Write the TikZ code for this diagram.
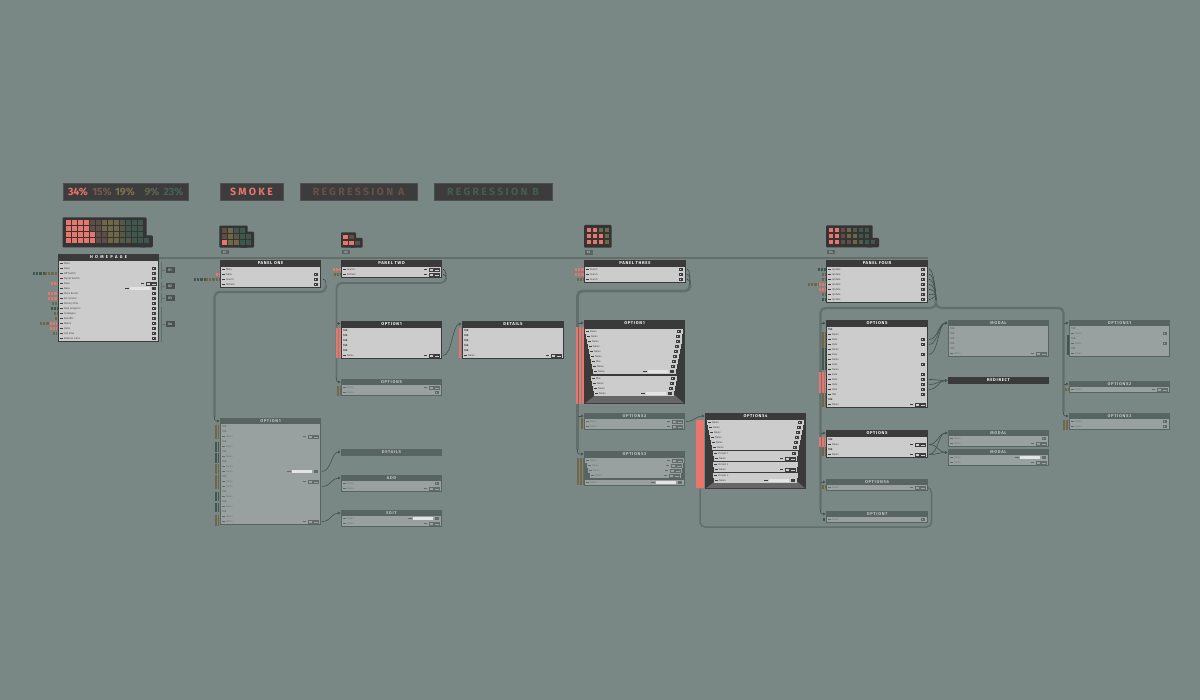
\documentclass[tikz,border=0pt]{standalone}
\usepackage{fontspec}
\setmainfont{Fira Sans}
\newfontfamily\tfont[LetterSpace=22]{Fira Sans}
\newfontfamily\pfont{Fira Sans}
\newfontfamily\hfont[LetterSpace=16]{Fira Sans}
\newfontfamily\hwfont[LetterSpace=55]{Fira Sans}
\newfontfamily\rfont{Fira Sans}
\usetikzlibrary{calc,arrows.meta}

\definecolor{bg}{RGB}{121,135,133}
\definecolor{dbox}{RGB}{58,58,58}
\definecolor{drow}{RGB}{204,204,204}
\definecolor{dtxt}{RGB}{72,72,72}
\definecolor{dico}{RGB}{62,62,62}
\definecolor{dhead}{RGB}{245,245,245}
\definecolor{dfloor}{RGB}{102,102,102}
\definecolor{lbox}{RGB}{88,100,98}
\definecolor{lrow}{RGB}{152,161,159}
\definecolor{ltxt}{RGB}{108,118,116}
\definecolor{lico}{RGB}{98,108,106}
\definecolor{lhead}{RGB}{190,197,195}
\definecolor{lfloor}{RGB}{88,100,98}
\definecolor{trk}{RGB}{98,110,108}
\definecolor{lnk}{RGB}{70,80,78}
\definecolor{sal}{RGB}{233,117,109}
\definecolor{brn}{RGB}{96,77,70}
\definecolor{olv}{RGB}{110,103,72}
\definecolor{dol}{RGB}{86,89,68}
\definecolor{grn}{RGB}{64,87,77}
\definecolor{tbx}{RGB}{60,60,60}
\definecolor{tbxl}{RGB}{78,78,78}
\definecolor{wbx}{RGB}{52,52,52}
\definecolor{labbg}{RGB}{90,101,99}
\definecolor{hlbg}{RGB}{74,82,80}
\definecolor{labtx}{RGB}{170,178,176}
\definecolor{pcb}{RGB}{118,90,80}
\definecolor{pco}{RGB}{125,113,78}
\definecolor{pcd}{RGB}{98,100,76}
\definecolor{pcg}{RGB}{72,98,88}
\definecolor{rga}{RGB}{104,82,72}
\definecolor{rgb}{RGB}{72,92,80}
\definecolor{fld}{RGB}{228,228,228}

\newcounter{tl}
\def\hhd{7}
\def\hhl{6}

% row left parts
\newcommand\rowLdef[5]{%
  \fill[#5ico] (#1+1,#3+1.6) rectangle (#1+3.8,#3+3.4);%
  \stepcounter{tl}%
  \node[rowtext, text=#5txt] (tl\arabic{tl}) at (#1+4.8,#3+2.55) {#4};}
\newcommand\rowLt[5]{%
  \stepcounter{tl}%
  \node[rowtext, text=#5txt, font=\rfont\bfseries\fontsize{2.6}{2.6}\selectfont] (tl\arabic{tl}) at (#1+0.8,#3+2.55) {#4};}
% row right parts
\newcommand\rowRi[5]{%
  \fill[#5ico] (#2-5.6,#3+1.3) rectangle (#2-1.6,#3+3.7);%
  \fill[#5row] (#2-4.6,#3+2.1) rectangle (#2-3.7,#3+2.9);}
\newcommand\rowRc[5]{%
  \draw[#5ico, line width=0.3pt] (#2-6.5,#3+1.3) rectangle (#2-1.4,#3+3.8);%
  \fill[#5ico] (#2-5.7,#3+2.2) rectangle (#2-2.2,#3+2.9);%
  \draw[#5ico, line width=0.3pt] (#2-12,#3+1.3) rectangle (#2-8,#3+3.8);%
  \fill[#5ico] (#2-17,#3+1.8) rectangle (#2-14,#3+3.3);}
\newcommand\rowRw[5]{%
  \fill[fld] (#2-28,#3+1.2) rectangle (#2-8,#3+3.8);%
  \fill[#5ico] (#2-33,#3+1.8) rectangle (#2-29,#3+3.2);%
  \fill[#5ico] (#2-6,#3+1.3) rectangle (#2-1.6,#3+3.7);}

\newcommand\mkrow[6]{%
  \fill[#6row] (#1,#3+0.45) rectangle (#2,#3+4.55);%
  \ifcsname rowL#5\endcsname\csname rowL#5\endcsname{#1}{#2}{#3}{#4}{#6}\else\rowLdef{#1}{#2}{#3}{#4}{#6}\fi
  \ifcsname rowR#5\endcsname\csname rowR#5\endcsname{#1}{#2}{#3}{#4}{#6}\fi}

% panel: name, x, y, width, nrows, title, variant, rows
\newcommand\mkpanel[8]{%
  \edef\hh{\ifnum#5=0 7\else\csname hh#7\endcsname\fi}%
  \pgfmathsetmacro\ph{#5==0 ? 7 : \hh+5*#5+1}%
  \node[anchor=north west, inner sep=0, outer sep=0, minimum width=#4pt, minimum height=\ph pt, fill=#7box] (#1) at (#2,#3) {};%
  \node[hdtext, text=#7head] (#1-h) at (#2+#4/2,#3+\hh/2) {#6};%
  \ifnum#5>0
    \foreach \lab/\typ [count=\i from 0] in {#8} {%
      \pgfmathsetmacro\ry{#3+\hh+5*\i}%
      \mkrow{#2+1}{#2+#4-1}{\ry}{\lab}{\typ}{#7}}%
  \fi}

% perspective panel: name, x, y, width, height, title, variant, rows (ry/il/ir/label/type)
\newcommand\mkpersp[8]{%
  \node[anchor=north west, inner sep=0, outer sep=0, minimum width=#4pt, minimum height=#5pt, fill=#7box] (#1) at (#2,#3) {};%
  \fill[#7floor] (#2+1,#3+#5-0.8) -- (#2+#4-1,#3+#5-0.8) -- (#2+#4-10,#3+#5-8.5) -- (#2+11,#3+#5-8.5) -- cycle;%
  \node[hdtext, text=#7head] (#1-h) at (#2+#4/2,#3+3.5) {#6};%
  \foreach \ry/\il/\ir/\lab/\typ in {#8} {\mkrow{#2+\il}{#2+#4-\ir}{#3+\ry}{\lab}{\typ}{#7}}}

% waffle cells: x0, y0, nrows, pitch, colour list (bottom to top, column by column)
\newcommand\waffle[5]{%
  \foreach \wc [count=\k from 0] in {#5} {%
    \pgfmathtruncatemacro\wcol{\k/#3}%
    \pgfmathtruncatemacro\wrow{#3-1-mod(\k,#3)}%
    \fill[\wc] (#1+#4*\wcol,#2+#4*\wrow) rectangle ++(#4-1.3,#4-1.3);}}

% striped tick bar: x1, x2, ycentre, height, colour
\newcommand\stripes[5]{\draw[#5, line width=#4pt, dash pattern=on 0.9pt off 0.5pt] (#1,#3) -- (#2,#3);}

\begin{document}
\begin{tikzpicture}[x=1pt,y=-1pt,
  trunk/.style={draw=trk, line width=2.2pt, rounded corners=5pt},
  link/.style={draw=lnk, line width=0.6pt},
  endarr/.style={-{Triangle[length=2.4pt,width=2.6pt]}},
  hdtext/.style={font=\hfont\bfseries\fontsize{4.2}{4.2}\selectfont, inner sep=0},
  rowtext/.style={font=\rfont\fontsize{2.6}{2.6}\selectfont, inner sep=0, anchor=west},
  tbox/.style={fill=tbx, draw=tbxl, line width=0.6pt, inner sep=0, minimum height=17pt, font=\tfont\bfseries\fontsize{10.5}{10.5}\selectfont},
  pct/.style={inner sep=0, font=\pfont\bfseries\fontsize{10.5}{10.5}\selectfont},
  wlab/.style={fill=labbg, text=labtx, inner sep=0, minimum width=8pt, minimum height=4.6pt, font=\pfont\bfseries\fontsize{3.2}{3.2}\selectfont},
  hlab/.style={fill=hlbg, text=labtx, inner sep=0, minimum width=9pt, minimum height=6pt, font=\pfont\bfseries\fontsize{3.6}{3.6}\selectfont},
  brk/.style={draw=trk, line width=0.7pt},
  hline/.style={draw=trk, line width=1.3pt},
]
\fill[bg] (0,0) rectangle (1200,700);
\useasboundingbox (0,0) rectangle (1200,700);

% ---------- top legend ----------
\node[tbox, minimum width=125pt] (stat) at (125.5,191.5) {};
\node[pct, text=sal] (pc1) at (78,191.5) {34\%};
\node[pct, text=pcb] (pc2) at (102,191.5) {15\%};
\node[pct, text=pco] (pc3) at (125,191.5) {19\%};
\node[pct, text=pcd] (pc4) at (152,191.5) {9\%};
\node[pct, text=pcg] (pc5) at (173.5,191.5) {23\%};
\node[tbox, minimum width=63pt, text=sal] (smoke) at (251.5,191.5) {SMOKE};
\node[tbox, minimum width=117pt, text=rga] (rega) at (358.5,191.5) {REGRESSION A};
\node[tbox, minimum width=118pt, text=rgb] (regb) at (493,191.5) {REGRESSION B};

% ---------- waffles ----------
\fill[wbx, rounded corners=1pt] (62.5,217.5) rectangle (146.7,247.3);
\fill[wbx, rounded corners=1pt] (140,235.5) rectangle (152.8,247.3);
\waffle{66}{220.5}{4}{6}{sal,sal,sal,sal,sal,sal,sal,sal,sal,sal,sal,sal,sal,sal,sal,sal,sal,sal,brn,brn,brn,brn,brn,brn,brn,brn,olv,olv,olv,olv,olv,olv,olv,olv,olv,olv,dol,dol,dol,dol,dol,grn,grn,grn,grn,grn,grn,grn,grn,grn,grn,grn,grn}

\fill[wbx, rounded corners=1pt] (219.3,225.7) rectangle (247.7,247.7);
\fill[wbx, rounded corners=1pt] (240,231.7) rectangle (254,247.7);
\waffle{221.8}{228.2}{3}{6}{sal,brn,brn,olv,olv,olv,olv,dol,grn,grn,grn,grn,grn,grn}

\fill[wbx, rounded corners=1pt] (341,232.3) rectangle (356,247.7);
\fill[wbx, rounded corners=1pt] (350,238) rectangle (362.7,247.7);
\waffle{343.3}{234.6}{2}{6}{sal,sal,sal,brn,brn}

\fill[wbx, rounded corners=1pt] (584,225) rectangle (611.7,247.7);
\waffle{586.5}{227.6}{3}{6}{sal,sal,sal,sal,sal,sal,sal,sal,olv,olv,olv,olv}

\fill[wbx, rounded corners=1pt] (826,225.3) rectangle (872.7,247.3);
\fill[wbx, rounded corners=1pt] (866,238) rectangle (879,247.3);
\waffle{828.5}{227.6}{3}{6}{sal,sal,sal,sal,sal,sal,brn,brn,brn,brn,olv,olv,olv,olv,dol,dol,grn,grn,grn,grn,grn,grn}

\node[wlab] (wl1) at (224.5,252) {01};
\node[wlab] (wl2) at (346,252) {02};
\node[wlab] (wl3) at (588.5,252.5) {03};
\node[wlab] (wl4) at (831,252) {04};

% ---------- coordinates of ports ----------
\coordinate (p1p) at (323.5,279.5);
\coordinate (p1b) at (326,286);
\coordinate (lo1i) at (219.5,421);
\coordinate (p2p0) at (443.5,269.5);
\coordinate (p2p1) at (443.5,274.5);
\coordinate (p2b) at (446,280);
\coordinate (o1i) at (340.5,323.5);
\coordinate (opsi) at (340.5,382);
\coordinate (o1p) at (443,355.5);
\coordinate (deti) at (461.5,324);
\coordinate (lo1p1) at (322,471.5);
\coordinate (lo1p2) at (322,486.5);
\coordinate (lo1p3) at (322,521.5);
\coordinate (det2i) at (340.5,452);
\coordinate (addi) at (340.5,478);
\coordinate (editi) at (340.5,513);
\coordinate (p3p0) at (687.5,269.5);
\coordinate (p3p1) at (687.5,274.5);
\coordinate (p3p2) at (687.5,279.5);
\coordinate (p3b) at (690,285);
\coordinate (p3o1i) at (583.5,323);
\coordinate (o2i) at (583.5,416);
\coordinate (o3i) at (583.5,454);
\coordinate (o2p) at (686,421.5);
\coordinate (o4i) at (704.5,416);
\coordinate (o4b) at (700,489);
\coordinate (o6p) at (929,487.5);
\coordinate (p4b) at (936,300);
\coordinate (p4oi) at (825.5,323);
\coordinate (p4o2i) at (825.5,433);
\coordinate (o6i) at (825.5,482);
\coordinate (o7i) at (825.5,514);
\coordinate (ro1i) at (1068.5,323);
\coordinate (ro2i) at (1068.5,384);
\coordinate (ro3i) at (1068.5,416);
\coordinate (m1i) at (947.5,323);
\coordinate (redi) at (947.5,380.5);
\coordinate (m2i) at (947.5,433);
\coordinate (m3i) at (947.5,452.5);
\foreach \i in {0,...,6} {\coordinate (p4p\i) at (929.5,269.5+5*\i);}
\coordinate (p4oa) at (929,339.5);
\coordinate (p4ob) at (929,344.5);
\coordinate (p4oc) at (929,354.5);
\coordinate (p4od) at (929,379.5);
\coordinate (p4oe) at (929,384.5);
\coordinate (p4of) at (929,389.5);
\coordinate (p4q1) at (929,444.5);
\coordinate (p4q2) at (929,454.5);

% ---------- connectors ----------
% panel one
\draw[link] (p1p) .. controls +(2.5,0) and +(0,-3) .. (p1b);
\draw[trunk] (p1b) -- ++(0,6) -| ($(lo1i)+(-5,-4)$);
\draw[link, endarr, rounded corners=2pt] ($(lo1i)+(-5,-4)$) |- (lo1i);
% panel two
\draw[link] (p2p0) .. controls +(2.5,0) and +(0,-4) .. (p2b);
\draw[link] (p2p1) .. controls +(2.5,0) and +(0,-3) .. (p2b);
\draw[trunk, line width=1.8pt] (p2b) -- ++(0,3) -| ($(opsi)+(-4,-4)$);
\draw[link, endarr, rounded corners=2pt] ($(opsi)+(-4,-4)$) |- (opsi);
\draw[link, endarr] ($(o1i)+(-4,0)$) -- (o1i);
\draw[link, endarr] (o1p) .. controls +(9,0) and +(-9,0) .. (deti);
% option1 (left) to details, add, edit
\draw[link, endarr] (lo1p1) .. controls +(9,0) and +(-9,0) .. (det2i);
\draw[link, endarr] (lo1p2) .. controls +(9,0) and +(-9,0) .. (addi);
\draw[link, endarr] (lo1p3) .. controls +(9,0) and +(-9,0) .. (editi);
% panel three
\draw[link] (p3p0) .. controls +(2.5,0) and +(0,-6) .. (p3b);
\draw[link] (p3p1) .. controls +(2.5,0) and +(0,-5) .. (p3b);
\draw[link] (p3p2) .. controls +(2.5,0) and +(0,-3) .. (p3b);
\draw[trunk, line width=2.8pt] (p3b) -- ++(0,6) -| ($(o3i)+(-6,-4)$);
\draw[link, endarr, rounded corners=2pt] ($(o3i)+(-6,-4)$) |- (o3i);
\draw[link, endarr] ($(p3o1i)+(-6,0)$) -- (p3o1i);
\draw[link, endarr] ($(o2i)+(-6,0)$) -- (o2i);
\draw[link, endarr] (o2p) .. controls +(9,0) and +(-9,0) .. (o4i);
% options6 back to options4
\draw[trunk, line width=1.5pt] (o6p) -- ++(2.5,0) |- ($(o4b)+(0,38)$) -- (o4b);
% panel four
\foreach \i in {0,...,6} {\draw[link] (p4p\i) .. controls +(4,0) and +(0,-8) .. (p4b);}
\draw[trunk] (p4b) -- ++(0,8) -| ($(o7i)+(-5,-4)$);
\draw[trunk] (p4b) -- ++(0,8) -| ($(ro3i)+(-5,-4)$);
\draw[link, endarr, rounded corners=2pt] ($(o7i)+(-5,-4)$) |- (o7i);
\draw[link, endarr, rounded corners=2pt] ($(ro3i)+(-5,-4)$) |- (ro3i);
\draw[link, endarr] ($(p4oi)+(-5,0)$) -- (p4oi);
\draw[link, endarr] ($(p4o2i)+(-5,0)$) -- (p4o2i);
\draw[link, endarr] ($(o6i)+(-5,0)$) -- (o6i);
\draw[link, endarr] ($(ro1i)+(-5,0)$) -- (ro1i);
\draw[link, endarr] ($(ro2i)+(-5,0)$) -- (ro2i);
% options (panel four) to modal / redirect
\foreach \p in {p4oa,p4ob,p4oc} {\draw[link, endarr] (\p) .. controls +(9,0) and +(-9,0) .. (m1i);}
\foreach \p in {p4od,p4oe,p4of} {\draw[link, endarr] (\p) .. controls +(9,0) and +(-9,0) .. (redi);}
\foreach \p in {p4q1,p4q2} {\draw[link, endarr] (\p) .. controls +(9,0) and +(-9,0) .. (m2i);
  \draw[link, endarr] (\p) .. controls +(9,0) and +(-9,0) .. (m3i);}

% ---------- panels ----------
\mkpanel{hp}{58}{254}{101}{16}{\hwfont HOMEPAGE}{d}{Meta/n,Nuke/i,Off Switch/i,Flyout Switch/i,Nuke/c,Nuke/w,Place Recall/i,Ext Service/i,Activity Hits/i,Data Analytics/i,Catalogue/i,Benefits/i,Matrix/i,Hubs/i,List View/i,Referral Links/i}
\mkpanel{p1}{220}{260}{101}{4}{PANEL ONE}{d}{Meta/n,Nuke/i,Search/i,Refresh/i}
\mkpanel{p2}{341}{260}{101}{2}{PANEL TWO}{d}{Search/c,Refresh/c}
\mkpanel{p3}{584}{260}{102}{3}{PANEL THREE}{d}{Search/i,Search/i,Search/i}
\mkpanel{p4}{826}{260}{102}{7}{PANEL FOUR}{d}{Update/i,Update/i,Update/i,Update/i,Update/i,Update/i,Update/i}

\draw[hline] ($(hp.north east)+(0,4)$) -- ($(p4.north east)+(0,-2)$);

\mkpanel{o1}{341}{321}{101}{6}{OPTION1}{d}{TAB/t,TAB/t,TAB/t,TAB/t,TAB/t,Name/c}
\mkpanel{det}{462}{321}{102}{6}{DETAILS}{d}{TAB/t,TAB/t,TAB/t,TAB/t,TAB/t,Name/c}
\mkpanel{ops}{341}{379}{101}{2}{OPTIONS}{l}{Name/c,Name/i}
\mkpanel{lo1}{220}{418}{101}{20}{OPTION1}{l}{TAB/t,TAB/t,Name/c,TAB/t,Name/n,TAB/t,Name/n,TAB/t,Name/n,Name/w,TAB/t,Name/c,Name/n,TAB/t,Name/n,TAB/t,Name/n,TAB/t,Name/n,Name/c}
\mkpanel{det2}{341}{449}{101}{0}{DETAILS}{l}{}
\mkpanel{add}{341}{475}{101}{2}{ADD}{l}{Name/i,Name/c}
\mkpanel{edit}{341}{510}{101}{2}{EDIT}{l}{Name/w,Name/c}

\mkpersp{p3o1}{584}{320}{101}{84}{OPTION1}{d}{9/1/2/Name/i,14/2/3/Name/i,19/3/3/Name/i,24/4/4/Name/i,29/5/5/Name/i,34/6/6/Name/i,39/7/7/Max/i,44/8/8/Name/i,49/9/9/Name/w,56/7/8/Max/i,61/8/9/Name/i,66/9/10/Name/i,71/10/11/Name/w}
\mkpanel{o2}{584}{413}{101}{2}{OPTIONS2}{l}{Name/c,Name/c}
\mkpersp{o3}{584}{451}{101}{35}{OPTIONS3}{l}{7/1/1/Name/c,12/3/2/Name/c,17/4/3/Name/c,22/6/4/Name/c,29/1/1/Name/w}
\mkpersp{o4}{705}{413}{101}{76}{OPTIONS4}{d}{7/2/2/Name/i,12/3/3/Name/i,17/4/4/Name/i,22/5/5/Name/i,27/6/6/Name/i,32/7/7/Name/i,38/8/8/Variant 1/i,43/9/9/Name/c,49/8/8/Variant 2/n,54/9/9/Name/c,60/8/8/Variant 3/n,65/9/9/Name/w}

\mkpanel{p4o}{826}{320}{102}{16}{OPTIONS}{d}{TAB/t,Name/n,Date/i,Date/i,Name/n,Date/i,Name/n,Date/i,Name/n,Date/i,Date/i,Date/i,Date/i,TAB/i,TAB/t,Name/c}
\mkpanel{p4o2}{826}{430}{102}{4}{OPTIONS}{d}{TAB/t,Name/c,TAB/t,Name/c}
\mkpanel{o6}{826}{479}{102}{1}{OPTIONS6}{l}{Name/c}
\mkpanel{o7}{826}{511}{102}{1}{OPTION7}{l}{Name/i}

\mkpanel{m1}{948}{320}{101}{6}{MODAL}{l}{TAB/t,TAB/t,TAB/t,TAB/t,TAB/t,Name/c}
\mkpanel{redir}{948}{377}{101}{0}{REDIRECT}{d}{}
\mkpanel{m2}{948}{430}{101}{2}{MODAL}{l}{Name/i,Name/c}
\mkpanel{m3}{948}{449}{101}{2}{MODAL}{l}{Name/w,Name/c}
\mkpanel{ro1}{1069}{320}{101}{6}{OPTIONS1}{l}{TAB/t,Name/i,TAB/t,Name/i,TAB/t,Name/n}
\mkpanel{ro2}{1069}{381}{101}{1}{OPTIONS2}{l}{Name/c}
\mkpanel{ro3}{1069}{413}{101}{2}{OPTIONS3}{l}{Name/i,Name/i}

% ---------- output port dots ----------
\foreach \p in {p1p,p2p0,p2p1,p3p0,p3p1,p3p2,p4p0,p4p1,p4p2,p4p3,p4p4,p4p5,p4p6} {\fill[dico] ($(\p)+(-0.8,-0.8)$) rectangle ++(1.6,1.6);}

% ---------- homepage brackets ----------
\node[hlab] (hl1) at (170,270.5) {01};
\node[hlab] (hl2) at (170,286.5) {02};
\node[hlab] (hl3) at (170,298.5) {03};
\node[hlab] (hl4) at (170,324) {04};
\draw[brk] (161.5,262) -- (161.5,279) (161.5,270.5) -- (hl1.west);
\draw[brk] (161.5,282) -- (161.5,291) (161.5,286.5) -- (hl2.west);
\draw[brk] (161.5,293.5) -- (161.5,303.5) (161.5,298.5) -- (hl3.west);
\draw[brk] (161.5,307) -- (161.5,342) (161.5,324) -- (hl4.west);

% ---------- coloured tick bars ----------
\stripes{33}{45}{273.5}{3.4}{grn}\stripes{45}{57}{273.5}{3.4}{olv}
\stripes{51}{57}{283.5}{3.4}{sal}
\stripes{48}{57}{293.5}{3.4}{sal}
\stripes{48}{57}{298.5}{3.4}{sal}
\stripes{52}{57}{303.5}{3.4}{olv}
\stripes{51}{57}{308.5}{3.4}{grn}
\stripes{54}{57}{313.5}{3.4}{olv}
\stripes{55}{57}{318.5}{3.4}{olv}
\stripes{40}{50}{323.5}{3.4}{olv}\stripes{50}{57}{323.5}{3.4}{sal}
\stripes{50}{57}{328.5}{3.4}{sal}
\stripes{53}{57}{333.5}{3.4}{olv}

\stripes{216}{219.5}{274.5}{3.4}{sal}
\stripes{194}{206}{279.5}{3.4}{grn}\stripes{206}{219.5}{279.5}{3.4}{olv}
\stripes{333}{340.5}{269.5}{3.4}{sal}
\stripes{334}{340.5}{274.5}{3.4}{olv}
\stripes{575}{583.5}{269.5}{3.4}{sal}
\stripes{575}{583.5}{274.5}{3.4}{sal}
\stripes{577}{583.5}{279.5}{3.4}{olv}
\stripes{818}{825.5}{269.5}{3.4}{grn}
\stripes{822}{825.5}{274.5}{3.4}{olv}
\stripes{822}{825.5}{279.5}{3.4}{olv}
\stripes{808}{819}{284.5}{3.4}{olv}\stripes{819}{825.5}{284.5}{3.4}{sal}
\stripes{819}{825.5}{289.5}{3.4}{sal}
\stripes{822}{825.5}{294.5}{3.4}{olv}
\stripes{822}{825.5}{299.5}{3.4}{grn}

\stripes{336}{340.5}{343}{30}{sal}
\stripes{459}{461.5}{343}{30}{sal}
\stripes{337}{340.5}{391.5}{10}{olv}
\stripes{576}{583.5}{365.5}{77}{sal}
\stripes{581}{583.5}{424}{11}{olv}
\stripes{577}{583.5}{472}{27}{olv}
\fill[sal] (696,420) rectangle (703.5,488);
\stripes{822}{825.5}{340}{16}{olv}
\stripes{822}{825.5}{359}{22}{grn}
\stripes{819}{825.5}{382.5}{21}{sal}
\stripes{822}{825.5}{400}{14}{olv}
\stripes{819}{825.5}{442}{10}{sal}
\stripes{822}{825.5}{452}{9}{olv}
\stripes{822}{825}{487.5}{4}{olv}
\stripes{823}{825}{519}{3}{grn}
\stripes{1066.5}{1068.5}{345}{20}{grn}
\stripes{1065}{1068.5}{389.5}{3.5}{olv}
\stripes{1063}{1068.5}{425.5}{10}{olv}
\stripes{215}{219}{432.5}{14}{olv}
\stripes{215}{219}{447}{10}{grn}
\stripes{215}{219}{458}{10}{grn}
\stripes{215}{219}{469}{10}{olv}
\stripes{215}{219}{482.5}{14}{olv}
\stripes{215}{219}{496}{9}{grn}
\stripes{215}{219}{507}{9}{grn}
\stripes{215}{219}{520}{11}{olv}
\end{tikzpicture}
\end{document}
